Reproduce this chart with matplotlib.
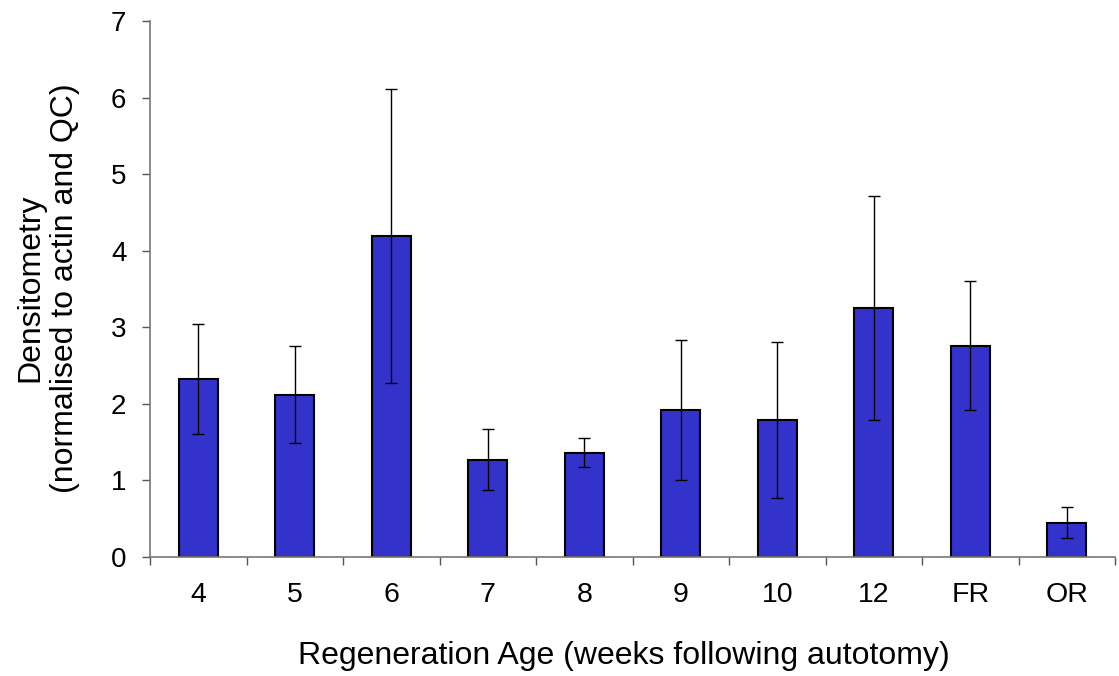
import matplotlib
matplotlib.use("Agg")
import matplotlib.pyplot as plt
import numpy as np

plt.rcParams['font.family'] = ['Liberation Sans', 'DejaVu Sans']

categories = ['4', '5', '6', '7', '8', '9', '10', '12', 'FR', 'OR']
means = [2.32, 2.12, 4.19, 1.27, 1.36, 1.92, 1.79, 3.25, 2.76, 0.45]
errors = [0.72, 0.63, 1.92, 0.40, 0.19, 0.91, 1.02, 1.46, 0.84, 0.20]
y_ticks = [0, 1, 2, 3, 4, 5, 6, 7]

W, H = 1119, 676
fig = plt.figure(figsize=(W / 100, H / 100), dpi=100)
ax = fig.add_axes([150 / W, 1 - 557 / H, 965 / W, 536 / H])

x = np.arange(len(categories))
ax.bar(x, means, width=0.4, color='#3333cc', edgecolor='black', linewidth=1.5, zorder=2)
ax.errorbar(x, means, yerr=errors, fmt='none', ecolor='black', elinewidth=1.0,
            capsize=4.5, capthick=1.0, zorder=3)

ax.set_xlim(-0.5, len(categories) - 0.5)
ax.set_ylim(0, 7)
ax.set_yticks(y_ticks)
ax.set_yticklabels([str(v) for v in y_ticks])

# boundaries between groups carry the tick marks, centres carry the labels
ax.set_xticks(np.arange(-0.5, len(categories)), labels=[''] * (len(categories) + 1))
ax.set_xticks(x, labels=categories, minor=True)
ax.tick_params(axis='x', which='major', direction='out', length=6, width=1.0, color='#555555')
ax.tick_params(axis='x', which='minor', length=0, pad=18, labelsize=20.5)
ax.tick_params(axis='y', direction='out', length=6, width=1.0, color='#555555',
               labelsize=20, pad=11)

for side in ('top', 'right'):
    ax.spines[side].set_visible(False)
for side in ('left', 'bottom'):
    ax.spines[side].set_color('#777777')
    ax.spines[side].set_linewidth(1.2)

fig.text(624 / W, 1 - 656 / H, 'Regeneration Age (weeks following autotomy)',
         fontsize=23, ha='center', va='center')
fig.text(48 / W, 1 - 288 / H, 'Densitometry\n(normalised to actin and QC)',
         fontsize=23, rotation=90, ha='center', va='center', multialignment='center')

fig.savefig('out.png', dpi=100)
